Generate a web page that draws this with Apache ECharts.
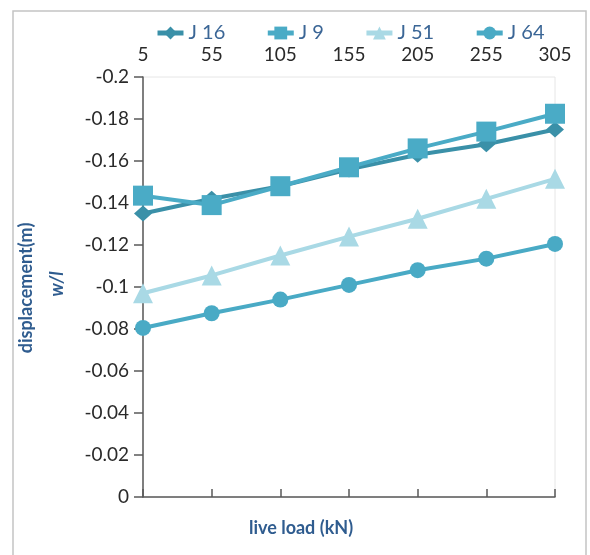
<!DOCTYPE html>
<html>
<head>
<meta charset="utf-8">
<script src="https://cdn.jsdelivr.net/npm/echarts@6/dist/echarts.min.js"></script>
<style>html,body{margin:0;padding:0;background:#fff;}#c{width:590px;height:555px;}</style>
</head>
<body>
<div id="c"></div>
<script>
const categories = ['5', '55', '105', '155', '205', '255', '305'];
const seriesNames = ['J 16', 'J 9', 'J 51', 'J 64'];
const j16 = [-0.135, -0.142, -0.148, -0.156, -0.163, -0.168, -0.175];
const j9  = [-0.1435, -0.139, -0.148, -0.157, -0.166, -0.174, -0.1825];
const j51 = [-0.097, -0.1055, -0.115, -0.124, -0.1325, -0.142, -0.1515];
const j64 = [-0.0805, -0.0875, -0.094, -0.101, -0.108, -0.1135, -0.1205];
const yTicks = [-0.2, -0.18, -0.16, -0.14, -0.12, -0.1, -0.08, -0.06, -0.04, -0.02, 0];

const chart = echarts.init(document.getElementById('c'));
const font = 'Lato, "Open Sans", sans-serif';
const titleColor = '#2f5c8f';
function mk(name, data, color, symbol, size) {
  return {
    name: name, type: 'line', data: data,
    symbol: symbol, symbolSize: size, showSymbol: true,
    lineStyle: { color: color, width: 4 },
    itemStyle: { color: color },
    emphasis: { disabled: true }, animation: false
  };
}
chart.setOption({
  animation: false,
  legend: {
    top: 18, left: 150,
    itemGap: 40, itemWidth: 26, itemHeight: 16,
    lineStyle: { width: 5 },
    textStyle: { fontFamily: font, fontSize: 20, color: '#3b6696' },
    data: seriesNames
  },
  grid: { left: 143, right: 35, top: 77, bottom: 58, show: true, borderColor: '#e6e6e6', borderWidth: 1 },
  xAxis: {
    type: 'category', position: 'top', data: categories, boundaryGap: false,
    axisLine: { lineStyle: { color: '#595959', width: 1.5 } },
    axisTick: { show: true, length: 8, lineStyle: { color: '#595959', width: 1.5 } },
    axisLabel: { fontFamily: font, fontSize: 19, color: '#2a2a2a', margin: 13 },
    splitLine: { show: false }
  },
  yAxis: {
    type: 'value', inverse: true, min: -0.2, max: 0, interval: 0.02,
    axisLine: { show: true, lineStyle: { color: '#595959', width: 1.5 } },
    axisTick: { show: true, length: 9, lineStyle: { color: '#595959', width: 1.5 } },
    axisLabel: {
      fontFamily: font, fontSize: 19, color: '#2a2a2a', margin: 14,
      formatter: function (v) { const t = yTicks.find(function (k) { return Math.abs(k - v) < 1e-9; }); return t === undefined ? '' : String(t); }
    },
    splitLine: { show: false }
  },
  series: [
    mk(seriesNames[0], j16, '#3a90a8', 'diamond', [18, 16]),
    mk(seriesNames[1], j9, '#4aabc6', 'rect', 20),
    mk(seriesNames[2], j51, '#a9d9e5', 'triangle', 20),
    mk(seriesNames[3], j64, '#49aac5', 'circle', 16)
  ],
  graphic: [
    { type: 'rect', shape: { x: 13, y: 11, width: 573, height: 560 }, style: { fill: 'none', stroke: '#c4c4c4', lineWidth: 1.5 }, silent: true },
    { type: 'text', x: 26, y: 288, rotation: Math.PI / 2,
      style: { text: 'displacement(m)', fontFamily: font, fontSize: 18, fontWeight: 'bold', fill: titleColor, align: 'center', verticalAlign: 'middle' } },
    { type: 'text', x: 57, y: 284, rotation: Math.PI / 2,
      style: { text: 'w/l', fontFamily: font, fontSize: 18, fontWeight: 'bold', fontStyle: 'italic', fill: titleColor, align: 'center', verticalAlign: 'middle' } },
    { type: 'text', x: 301, y: 528,
      style: { text: 'live load (kN)', fontFamily: font, fontSize: 18, fontWeight: 'bold', fill: titleColor, align: 'center', verticalAlign: 'middle' } }
  ]
});
</script>
</body>
</html>
